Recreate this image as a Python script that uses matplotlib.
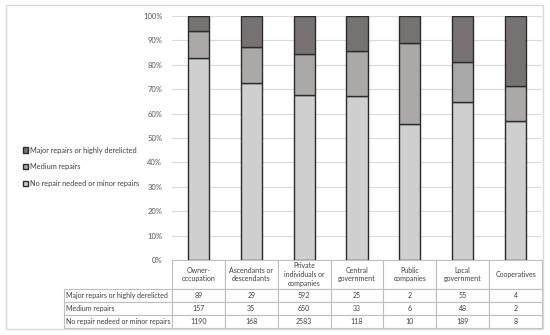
import numpy as np
import matplotlib
matplotlib.use("Agg")
import matplotlib.pyplot as plt
from matplotlib.patches import Rectangle

plt.rcParams['font.family'] = ['Lato', 'DejaVu Sans']

categories = ["Owner-\noccupation", "Ascendants or\ndescendants", "Private\nindividuals or\ncompanies",
              "Central\ngovernment", "Public\ncompanies", "Local\ngovernment", "Cooperatives"]
series_names = ["Major repairs or highly derelicted", "Medium repairs", "No repair nedeed or minor repairs"]
major = [89, 29, 592, 25, 2, 55, 4]
medium = [157, 35, 650, 33, 6, 48, 2]
no_repair = [1190, 168, 2583, 118, 10, 189, 8]
yticks = [0, 10, 20, 30, 40, 50, 60, 70, 80, 90, 100]

colors = {"no": "#d0cfcf", "med": "#aba9a8", "maj": "#767271"}
edge = "#2b2b2b"

counts = np.array([major, medium, no_repair], dtype=float)
totals = counts.sum(axis=0)
pct_maj, pct_med, pct_no = counts / totals * 100

W, H = 550, 335
fig = plt.figure(figsize=(W / 100, H / 100), dpi=100)
fig.patches.append(Rectangle((6 / W, 1 - 329 / H), 537 / W, 324 / H, transform=fig.transFigure,
                             fill=False, edgecolor="#d9d9d9", lw=1))

ax = fig.add_axes([172 / W, 1 - 260 / H, 370 / W, 244 / H])
x = np.arange(len(categories))
bw = 0.4
b1 = ax.bar(x, pct_no, bw, color=colors["no"], edgecolor=edge, lw=1, zorder=3)
b2 = ax.bar(x, pct_med, bw, bottom=pct_no, color=colors["med"], edgecolor=edge, lw=1, zorder=3)
b3 = ax.bar(x, pct_maj, bw, bottom=pct_no + pct_med, color=colors["maj"], edgecolor=edge, lw=1, zorder=3)

ax.set_xlim(-0.5, len(categories) - 0.5)
ax.set_ylim(0, 100)
ax.set_yticks(yticks)
ax.set_yticklabels([f"{t}%" for t in yticks], fontsize=5.5, color="#595959")
ax.tick_params(axis='y', length=0, pad=7)
ax.set_xticks([])
ax.grid(axis='y', color="#d9d9d9", lw=0.8, zorder=0)
for s in ax.spines.values():
    s.set_visible(False)

# data table under the plot
cell_text = [[series_names[0]] + [str(v) for v in major],
             [series_names[1]] + [str(v) for v in medium],
             [series_names[2]] + [str(v) for v in no_repair]]
tbl = ax.table(cellText=cell_text, colLabels=[""] + categories, cellLoc='center',
               bbox=[(64 - 172) / 370, (260 - 328) / 244, (542 - 64) / 370, 68 / 244])
tbl.auto_set_font_size(False)
tbl.set_fontsize(5.0)
colw = [108] + [370 / 7] * 7
rowh = [29, 13, 13, 13]
for (r, c), cell in tbl.get_celld().items():
    cell.set_width(colw[c] / 100)
    cell.set_height(rowh[r] / 100)
    cell.set_edgecolor("#bfbfbf")
    cell.set_linewidth(0.8)
    cell.get_text().set_color("#404040")
    if c == 0:
        cell.get_text().set_ha('left')
        cell._loc = 'left'
        cell.PAD = 0.02
    if r == 0:
        cell.get_text().set_fontsize(5.0)
        cell.get_text().set_linespacing(1.3)
        if c == 0:
            cell.visible_edges = ''

fig.legend([b3, b2, b1], series_names, loc='upper left', bbox_to_anchor=(16 / W, 1 - 140 / H),
           fontsize=5.3, frameon=False, handlelength=0.7, handleheight=0.7,
           handletextpad=0.3, labelspacing=1.3, labelcolor="#404040")

fig.savefig("out.png", dpi=100)
